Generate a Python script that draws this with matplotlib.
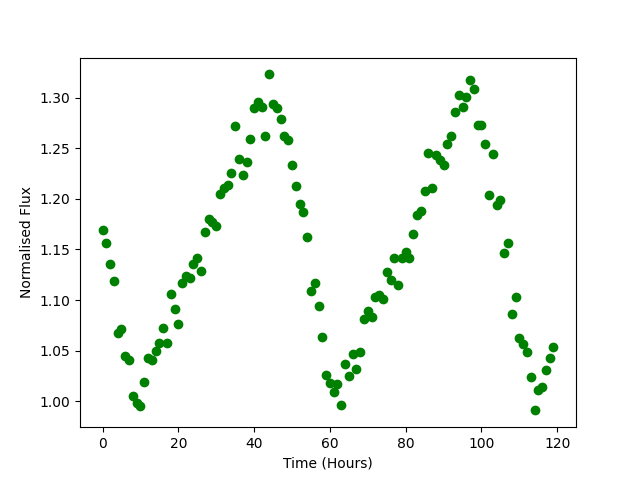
import matplotlib
matplotlib.use("Agg")
import matplotlib.pyplot as plt
import numpy as np

# time in hours, one reading per hour
hours = np.arange(120)

# normalised flux
flux = [
    1.169, 1.156, 1.136, 1.119, 1.067, 1.071, 1.045, 1.041, 1.005, 0.998,
    0.995, 1.019, 1.043, 1.041, 1.050, 1.058, 1.072, 1.058, 1.106, 1.091,
    1.076, 1.117, 1.124, 1.122, 1.136, 1.142, 1.129, 1.167, 1.180, 1.177,
    1.173, 1.205, 1.211, 1.214, 1.226, 1.272, 1.239, 1.224, 1.236, 1.259,
    1.290, 1.296, 1.291, 1.262, 1.323, 1.294, 1.290, 1.279, 1.262, 1.258,
    1.233, 1.213, 1.195, 1.187, 1.162, 1.109, 1.117, 1.094, 1.064, 1.026,
    1.018, 1.009, 1.017, 0.996, 1.037, 1.025, 1.047, 1.032, 1.049, 1.081,
    1.089, 1.083, 1.103, 1.105, 1.101, 1.128, 1.120, 1.142, 1.115, 1.142,
    1.148, 1.142, 1.165, 1.184, 1.188, 1.208, 1.245, 1.211, 1.243, 1.238,
    1.233, 1.254, 1.262, 1.286, 1.303, 1.291, 1.301, 1.317, 1.309, 1.273,
    1.273, 1.254, 1.204, 1.244, 1.194, 1.199, 1.147, 1.156, 1.086, 1.103,
    1.063, 1.057, 1.049, 1.024, 0.991, 1.011, 1.014, 1.031, 1.043, 1.054,
]

fig, ax = plt.subplots(figsize=(6.4, 4.8), dpi=100)
ax.scatter(hours, flux, color='green')
ax.set_xlabel('Time (Hours)')
ax.set_ylabel('Normalised Flux')

plt.savefig('out.png')
